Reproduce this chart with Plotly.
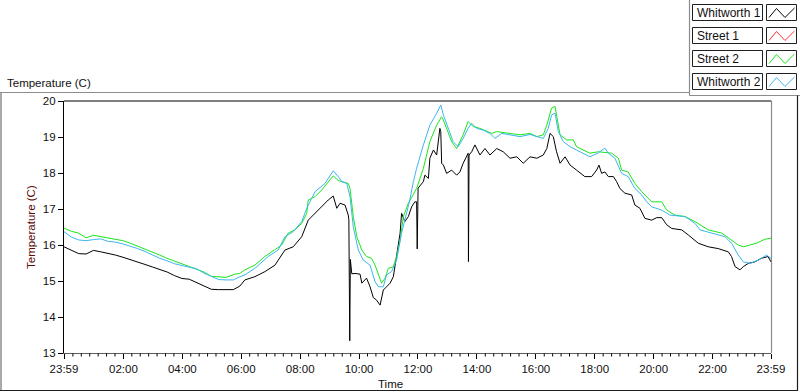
import plotly.graph_objects as go

# ---------------- data (hours elapsed since 23:59, temperature in C) ----------------
x_tick_labels = ["23:59", "02:00", "04:00", "06:00", "08:00", "10:00", "12:00",
                 "14:00", "16:00", "18:00", "20:00", "22:00", "23:59"]
legend_names = ["Whitworth 1", "Street 1", "Street 2", "Whitworth 2"]
legend_colors = ["#000000", "#ff3030", "#19e619", "#3cb6f2"]

whitworth1_hours = [0, 0.25, 0.5, 0.75, 1, 1.25, 1.5, 1.75, 2, 2.25, 2.5, 2.75, 3, 3.25, 3.5, 3.75,
                    4, 4.25, 4.5, 4.75, 5, 5.25, 5.5, 5.75, 5.97, 6.14, 6.48, 6.82, 7.16, 7.50,
                    7.78, 8.07, 8.29, 8.52, 8.75, 8.97, 9.14, 9.26, 9.37, 9.54, 9.65, 9.67, 9.70,
                    9.72, 9.77, 9.88, 10.05, 10.11, 10.27, 10.39, 10.50, 10.61, 10.73, 10.84,
                    10.95, 11.07, 11.18, 11.29, 11.41, 11.46, 11.57, 11.69, 11.80, 11.91, 11.97,
                    11.99, 12.02, 12.20, 12.25, 12.37, 12.42, 12.54, 12.65, 12.76, 12.79, 12.82,
                    12.88, 12.99, 13.16, 13.33, 13.44, 13.55, 13.67, 13.72, 13.73, 13.75, 13.84,
                    13.95, 14.12, 14.29, 14.46, 14.69, 14.91, 15.14, 15.37, 15.59, 15.82, 16.05,
                    16.27, 16.39, 16.50, 16.61, 16.72, 16.84, 17.01, 17.18, 17.40, 17.63, 17.68,
                    17.91, 18.08, 18.16, 18.25, 18.36, 18.48, 18.65, 18.76, 18.87, 19.04, 19.27,
                    19.38, 19.55, 19.72, 19.95, 20.12, 20.29, 20.46, 20.63, 20.97, 21.19, 21.53,
                    21.87, 22.21, 22.55, 22.66, 22.78, 22.95, 23.06, 23.23, 23.45, 23.67, 23.90, 24.0]
whitworth1_temp = [15.95, 15.86, 15.76, 15.75, 15.85, 15.81, 15.77, 15.72, 15.66, 15.6, 15.53, 15.46,
                   15.39, 15.32, 15.25, 15.15, 15.07, 15.05, 14.95, 14.85, 14.77, 14.76, 14.75, 14.76,
                   14.86, 15.03, 15.12, 15.26, 15.44, 15.86, 15.95, 16.23, 16.69, 16.88, 17.06, 17.25,
                   17.36, 17.02, 17.16, 17.11, 16.83, 16.7, 13.34, 15.6, 15.2, 15.21, 15.19, 14.94,
                   15.08, 14.84, 14.54, 14.47, 14.33, 14.75, 14.84, 14.94, 15.12, 15.77, 16.33, 16.88,
                   16.65, 16.79, 17.06, 17.2, 17.2, 15.89, 17.58, 17.76, 17.94, 17.85, 18.41, 18.64,
                   18.5, 19.24, 19.15, 18.27, 18.22, 17.99, 18.08, 17.94, 18.03, 18.27, 18.5, 18.55,
                   15.54, 18.5, 18.59, 18.78, 18.5, 18.68, 18.5, 18.68, 18.59, 18.41, 18.45, 18.27,
                   18.45, 18.41, 18.5, 18.68, 19.1, 19.01, 18.59, 18.27, 18.45, 18.22, 18.08, 17.94,
                   17.9, 17.9, 18.08, 18.22, 17.99, 18.03, 17.9, 17.9, 17.76, 17.57, 17.44, 17.39,
                   17.11, 17.02, 16.74, 16.69, 16.76, 16.76, 16.56, 16.46, 16.42, 16.28, 16.05, 15.95,
                   15.9, 15.81, 15.68, 15.4, 15.31, 15.4, 15.49, 15.53, 15.63, 15.68, 15.53]

street1_hours = []
street1_temp = []

street2_hours = [0, 0.25, 0.5, 0.75, 1, 1.25, 1.5, 1.75, 2, 2.25, 2.5, 2.75, 3, 3.25, 3.5, 3.75, 4,
                 4.25, 4.5, 4.75, 5, 5.25, 5.5, 5.8, 5.97, 6.14, 6.48, 6.82, 7.16, 7.39, 7.61, 7.84,
                 8.07, 8.24, 8.29, 8.52, 8.75, 8.97, 9.14, 9.31, 9.65, 9.71, 9.82, 9.94, 10.11,
                 10.27, 10.44, 10.56, 10.73, 10.78, 10.90, 11.01, 11.18, 11.29, 11.41, 11.52, 11.69,
                 11.97, 12.20, 12.42, 12.65, 12.82, 12.88, 13.04, 13.16, 13.33, 13.55, 13.72, 13.89,
                 14.12, 14.52, 14.69, 15.14, 15.48, 15.82, 16.05, 16.27, 16.39, 16.55, 16.67, 16.72,
                 16.84, 17.06, 17.29, 17.40, 17.63, 17.85, 18.14, 18.59, 18.82, 18.93, 19.15, 19.38,
                 19.61, 19.78, 19.95, 20.29, 20.46, 20.74, 21.08, 21.42, 21.87, 22.33, 22.66, 22.89,
                 23.06, 23.51, 23.79, 24.0]
street2_temp = [16.47, 16.38, 16.33, 16.2, 16.27, 16.23, 16.2, 16.16, 16.12, 16.05, 15.97, 15.9,
                15.82, 15.72, 15.63, 15.55, 15.47, 15.39, 15.32, 15.25, 15.13, 15.11, 15.1, 15.19,
                15.21, 15.31, 15.44, 15.68, 15.86, 16.0, 16.33, 16.42, 16.6, 16.88, 17.25, 17.34,
                17.53, 17.76, 17.92, 17.79, 17.71, 17.57, 16.79, 16.23, 15.86, 15.68, 15.63, 15.44,
                15.03, 14.94, 15.08, 15.35, 15.4, 15.68, 16.14, 16.79, 17.16, 17.57, 18.13, 18.87,
                19.33, 19.56, 19.47, 19.15, 18.87, 18.68, 19.06, 19.43, 19.29, 19.24, 19.1, 19.15,
                19.1, 19.06, 19.1, 19.01, 19.06, 19.33, 19.8, 19.85, 19.61, 19.06, 18.92, 18.92,
                18.73, 18.64, 18.55, 18.59, 18.55, 18.41, 18.08, 18.03, 17.71, 17.48, 17.34, 17.2,
                17.2, 16.97, 16.83, 16.79, 16.65, 16.42, 16.33, 16.14, 16.0, 15.95, 16.05, 16.16, 16.19]

whitworth2_hours = [0, 0.25, 0.5, 0.75, 1, 1.25, 1.5, 1.75, 2, 2.25, 2.5, 2.75, 3, 3.25, 3.5, 3.75,
                    4, 4.25, 4.5, 4.75, 5, 5.25, 5.5, 5.75, 5.97, 6.14, 6.48, 6.93, 7.27, 7.50,
                    7.78, 8.07, 8.24, 8.52, 8.86, 9.14, 9.31, 9.43, 9.60, 9.71, 9.82, 9.99, 10.16,
                    10.39, 10.56, 10.67, 10.84, 10.95, 11.12, 11.29, 11.46, 11.57, 11.74, 11.86,
                    11.97, 12.20, 12.42, 12.65, 12.79, 12.88, 13.04, 13.21, 13.38, 13.55, 13.72,
                    13.84, 14.01, 14.23, 14.46, 14.63, 14.86, 15.14, 15.48, 15.82, 16.05, 16.27,
                    16.44, 16.55, 16.67, 16.78, 16.95, 17.18, 17.40, 17.63, 17.85, 18.14, 18.36,
                    18.48, 18.70, 18.93, 19.15, 19.38, 19.61, 19.78, 19.95, 20.29, 20.57, 21.08,
                    21.42, 21.59, 21.99, 22.44, 22.66, 22.89, 23.06, 23.29, 23.57, 23.85, 24.0]
whitworth2_temp = [16.37, 16.22, 16.14, 16.12, 16.15, 16.17, 16.1, 16.08, 16.03, 15.97, 15.9, 15.82,
                   15.72, 15.63, 15.56, 15.48, 15.43, 15.38, 15.34, 15.22, 15.13, 15.04, 15.03, 15.03,
                   15.12, 15.17, 15.35, 15.68, 15.86, 16.23, 16.37, 16.65, 17.02, 17.48, 17.71, 18.06,
                   17.9, 17.76, 17.71, 17.34, 16.51, 15.86, 15.58, 15.44, 14.98, 14.84, 14.84, 15.17,
                   15.26, 15.58, 16.33, 16.69, 17.25, 17.76, 18.13, 18.78, 19.33, 19.66, 19.89, 19.61,
                   19.24, 18.87, 18.73, 18.96, 19.24, 19.38, 19.24, 19.19, 19.1, 18.96, 19.1, 19.06,
                   19.01, 19.07, 19.01, 18.96, 19.24, 19.61, 19.66, 19.15, 18.87, 18.73, 18.64, 18.55,
                   18.45, 18.56, 18.69, 18.55, 18.41, 17.99, 17.9, 17.57, 17.39, 17.2, 17.06, 16.97,
                   16.83, 16.79, 16.6, 16.42, 16.33, 16.23, 16.05, 15.72, 15.53, 15.49, 15.58, 15.72, 15.63]

# ---------------- layout helpers (pixel -> paper) ----------------
L, R, T, B = 64, 771, 101, 353
X_MAX = 24.0


def px(x):
    return (x - L) / (R - L)


def py(y):
    return (B - y) / (B - T)


def tick_pos(label, last=False):
    h, m = map(int, label.split(":"))
    mins = (h * 60 + m - (23 * 60 + 59)) % 1440
    if last and mins == 0:
        mins = 1440
    return mins / 60.0


x_tick_vals = [tick_pos(lab, i == len(x_tick_labels) - 1) for i, lab in enumerate(x_tick_labels)]
# six minor ticks between consecutive major ticks (LabVIEW style)
minor_tick_vals = []
for k in range(-7, 7 * 12 + 1):
    v = x_tick_vals[1] + k * 2 / 7
    if 0.05 < v < X_MAX - 0.05 and all(abs(v - mv) > 0.05 for mv in x_tick_vals):
        minor_tick_vals.append(v)

FONT = "Liberation Sans"

fig = go.Figure()
series = [
    (whitworth1_hours, whitworth1_temp, legend_colors[0], legend_names[0]),
    (street1_hours, street1_temp, legend_colors[1], legend_names[1]),
    (street2_hours, street2_temp, legend_colors[2], legend_names[2]),
    (whitworth2_hours, whitworth2_temp, legend_colors[3], legend_names[3]),
]
for xs, ys, col, name in series:
    fig.add_trace(go.Scatter(x=xs, y=ys, mode="lines", name=name,
                             line=dict(color=col, width=1), hoverinfo="x+y+name"))

shapes = []
ann = []

# plot box top (black) and right (gray)
shapes.append(dict(type="line", xref="paper", yref="paper", x0=px(64), x1=px(771.5),
                   y0=py(101), y1=py(101), line=dict(color="#000000", width=1.2)))
shapes.append(dict(type="line", xref="paper", yref="paper", x0=px(771.5), x1=px(771.5),
                   y0=py(101), y1=py(353), line=dict(color="#8a8a8a", width=1.2)))

# outer frame
frame_gray = "#8c8c8c"
shapes += [
    dict(type="line", xref="paper", yref="paper", x0=px(0), x1=px(689.5), y0=py(92.5), y1=py(92.5),
         line=dict(color=frame_gray, width=1.2)),
    dict(type="line", xref="paper", yref="paper", x0=px(689.5), x1=px(689.5), y0=py(0), y1=py(95.5),
         line=dict(color=frame_gray, width=1.2)),
    dict(type="line", xref="paper", yref="paper", x0=px(689.5), x1=px(800), y0=py(95.5), y1=py(95.5),
         line=dict(color=frame_gray, width=1.2)),
    dict(type="line", xref="paper", yref="paper", x0=px(1), x1=px(1), y0=py(92.5), y1=py(390.5),
         line=dict(color=frame_gray, width=1.5)),
    dict(type="line", xref="paper", yref="paper", x0=px(797.5), x1=px(797.5), y0=py(95.5), y1=py(390.5),
         line=dict(color="#1e1e1e", width=1.2)),
    dict(type="line", xref="paper", yref="paper", x0=px(0), x1=px(798), y0=py(390.5), y1=py(390.5),
         line=dict(color="#1e1e1e", width=1.2)),
]

# minor x ticks drawn as short segments below the axis (paper refs so they are not clipped)
for v in minor_tick_vals:
    shapes.append(dict(type="line", xref="paper", yref="paper", x0=v / X_MAX, x1=v / X_MAX,
                       y0=py(353.5), y1=py(356.5), line=dict(color="#000000", width=1)))

# custom LabVIEW-style legend
for i, (name, col) in enumerate(zip(legend_names, legend_colors)):
    top = 4.5 + 23 * i
    bot = top + 16
    shapes.append(dict(type="rect", xref="paper", yref="paper", x0=px(692.5), x1=px(762.5),
                       y0=py(bot), y1=py(top), line=dict(color="#202020", width=1), fillcolor="white"))
    shapes.append(dict(type="rect", xref="paper", yref="paper", x0=px(766.5), x1=px(796.5),
                       y0=py(bot), y1=py(top), line=dict(color="#202020", width=1), fillcolor="white"))
    pts = [(769, top + 13), (776.5, top + 4), (785, top + 13), (794.5, top + 3.5)]
    path = "M " + " L ".join(f"{px(a):.5f},{py(b):.5f}" for a, b in pts)
    shapes.append(dict(type="path", xref="paper", yref="paper", path=path,
                       line=dict(color=col, width=1)))
    ann.append(dict(xref="paper", yref="paper", x=px(694.5), y=py(top + 8.5), text=name,
                    showarrow=False, xanchor="left", yanchor="middle",
                    font=dict(family=FONT, size=12, color="#101010")))

# texts
ann.append(dict(xref="paper", yref="paper", x=px(5), y=py(83), text="Temperature (C)",
                showarrow=False, xanchor="left", yanchor="middle",
                font=dict(family=FONT, size=11.5, color="#101010")))
ann.append(dict(xref="paper", yref="paper", x=px(31), y=py(227), text="Temperature (C)",
                textangle=-90, showarrow=False, xanchor="center", yanchor="middle",
                font=dict(family=FONT, size=11.5, color="#5c0a0a")))
ann.append(dict(xref="paper", yref="paper", x=px(390), y=py(384), text="Time",
                showarrow=False, xanchor="center", yanchor="middle",
                font=dict(family=FONT, size=11.5, color="#101010")))

fig.update_layout(
    width=800, height=392, autosize=False,
    margin=dict(l=L, r=800 - R, t=T, b=392 - B, pad=0),
    paper_bgcolor="white", plot_bgcolor="white",
    showlegend=False,
    font=dict(family=FONT, size=12, color="#101010"),
    shapes=shapes, annotations=ann,
)
fig.update_xaxes(
    range=[0, X_MAX], tickmode="array", tickvals=x_tick_vals, ticktext=x_tick_labels,
    ticks="outside", ticklen=5, tickwidth=1, tickcolor="#000000",
    showgrid=False, zeroline=False, showline=True, linecolor="#5a5a5a", linewidth=1,
    tickfont=dict(family=FONT, size=11.5, color="#101010"),
    fixedrange=True,
)
fig.update_yaxes(
    range=[13, 20], tickmode="linear", tick0=13, dtick=1,
    ticks="outside", ticklen=5, tickwidth=1, tickcolor="#000000",
    showgrid=False, zeroline=False, showline=True, linecolor="#000000", linewidth=1.2,
    tickfont=dict(family=FONT, size=11.5, color="#101010"),
    fixedrange=True,
)

fig.write_html("out.html", config={"displayModeBar": False},
               post_script="document.body.style.margin='0';document.body.style.padding='0';")
